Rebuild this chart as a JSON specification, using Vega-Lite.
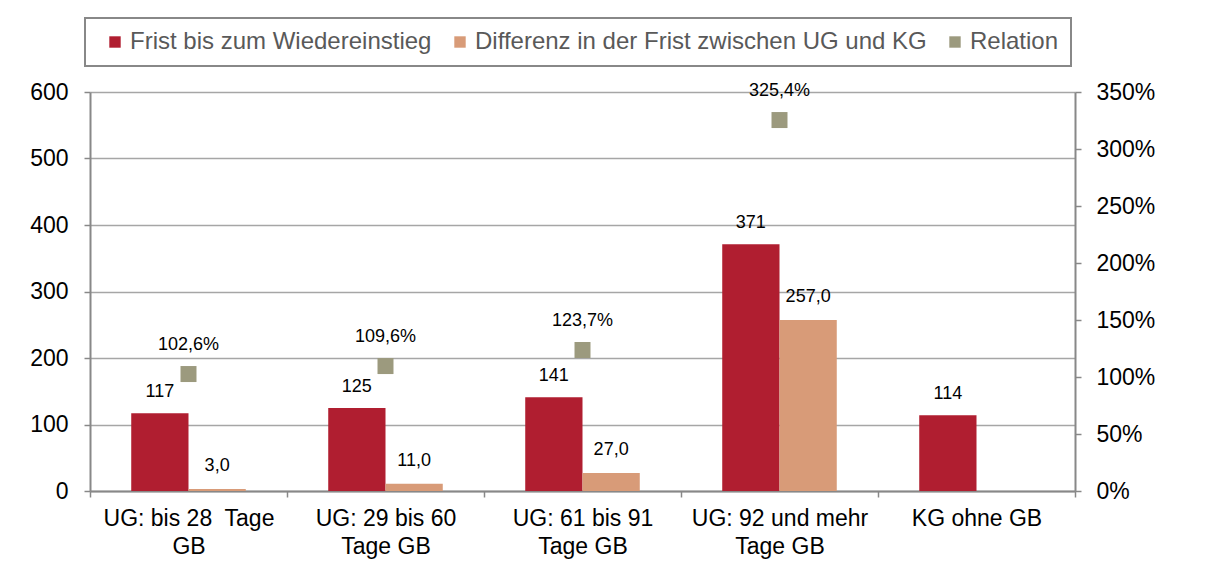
{
  "$schema": "https://vega.github.io/schema/vega-lite/v6.json",
  "width": 985,
  "height": 399,
  "autosize": {"type": "none"},
  "padding": {"left": 90, "top": 92, "right": 138, "bottom": 90},
  "background": "white",
  "config": {
    "locale": {"number": {"decimal": ",", "thousands": ".", "grouping": [3], "currency": ["", " €"]}},
    "font": "Liberation Sans",
    "view": {"stroke": null}
  },
  "datasets": {
    "bars": [
      {"cat": "UG: bis 28\u00a0 Tage\nGB", "series": "Frist bis zum Wiedereinstieg", "value": 117},
      {"cat": "UG: bis 28\u00a0 Tage\nGB", "series": "Differenz in der Frist zwischen UG und KG", "value": 3.0},
      {"cat": "UG: 29 bis 60\nTage GB", "series": "Frist bis zum Wiedereinstieg", "value": 125},
      {"cat": "UG: 29 bis 60\nTage GB", "series": "Differenz in der Frist zwischen UG und KG", "value": 11.0},
      {"cat": "UG: 61 bis 91\nTage GB", "series": "Frist bis zum Wiedereinstieg", "value": 141},
      {"cat": "UG: 61 bis 91\nTage GB", "series": "Differenz in der Frist zwischen UG und KG", "value": 27.0},
      {"cat": "UG: 92 und mehr\nTage GB", "series": "Frist bis zum Wiedereinstieg", "value": 371},
      {"cat": "UG: 92 und mehr\nTage GB", "series": "Differenz in der Frist zwischen UG und KG", "value": 257.0},
      {"cat": "KG ohne GB", "series": "Frist bis zum Wiedereinstieg", "value": 114}
    ],
    "rel": [
      {"cat": "UG: bis 28\u00a0 Tage\nGB", "rel": 1.026},
      {"cat": "UG: 29 bis 60\nTage GB", "rel": 1.096},
      {"cat": "UG: 61 bis 91\nTage GB", "rel": 1.237},
      {"cat": "UG: 92 und mehr\nTage GB", "rel": 3.254}
    ]
  },
  "encoding": {
    "x": {
      "field": "cat",
      "type": "nominal",
      "sort": ["UG: bis 28\u00a0 Tage\nGB", "UG: 29 bis 60\nTage GB", "UG: 61 bis 91\nTage GB", "UG: 92 und mehr\nTage GB", "KG ohne GB"],
      "scale": {"paddingInner": 0, "paddingOuter": 0},
      "axis": {
        "title": null,
        "labelAngle": 0,
        "labelExpr": "split(datum.label, '\\n')",
        "labelFontSize": 23,
        "labelLineHeight": 28,
        "labelPadding": 10,
        "labelLimit": 400,
        "labelColor": "#000000",
        "tickBand": "extent",
        "tickSize": 6,
        "tickColor": "#888888",
        "tickWidth": 1.5,
        "domainColor": "#888888",
        "domainWidth": 2
      }
    }
  },
  "layer": [
    {
      "data": {"name": "bars"},
      "encoding": {
        "xOffset": {"field": "series", "type": "nominal", "sort": ["Frist bis zum Wiedereinstieg", "Differenz in der Frist zwischen UG und KG"], "scale": {"paddingInner": 0, "paddingOuter": 0.72}},
        "y": {
          "field": "value",
          "type": "quantitative",
          "scale": {"domain": [0, 600], "nice": false},
          "axis": {
            "orient": "left",
            "title": null,
            "values": [0, 100, 200, 300, 400, 500, 600],
            "grid": true,
            "gridColor": "#a6a6a6",
            "gridWidth": 1.5,
            "domainColor": "#888888",
            "domainWidth": 2,
            "tickColor": "#888888",
            "tickWidth": 1.5,
            "tickSize": 6,
            "labelFontSize": 23,
            "labelPadding": 16,
            "labelColor": "#000000"
          }
        }
      },
      "layer": [
        {
          "mark": {"type": "bar"},
          "encoding": {
            "color": {
              "field": "series",
              "type": "nominal",
              "scale": {
                "domain": ["Frist bis zum Wiedereinstieg", "Differenz in der Frist zwischen UG und KG", "Relation"],
                "range": ["#B01E30", "#D89B78", "#9C9A7E"]
              },
              "legend": {
                "title": " ",
                "titleOrient": "left",
                "titleFontSize": 10,
                "titlePadding": 6,
                "orient": "none",
                "legendX": -5,
                "legendY": -74,
                "direction": "horizontal",
                "columns": 3,
                "symbolType": "square",
                "symbolSize": 130,
                "symbolStrokeWidth": 0,
                "labelFontSize": 24,
                "labelColor": "#595959",
                "labelOffset": 3,
                "columnPadding": 16,
                "padding": 12,
                "strokeColor": "#888888",
                "fillColor": "#ffffff",
                "labelLimit": 600,
                "encode": {"legend": {"update": {"strokeWidth": {"value": 2}}}}
              }
            }
          }
        },
        {
          "transform": [{"filter": "datum.series == 'Frist bis zum Wiedereinstieg'"}],
          "mark": {"type": "text", "dy": -21, "fontSize": 18, "color": "#000000"},
          "encoding": {"text": {"field": "value", "type": "quantitative", "format": "d"}}
        },
        {
          "transform": [{"filter": "datum.series != 'Frist bis zum Wiedereinstieg'"}],
          "mark": {"type": "text", "dy": -23, "fontSize": 18, "color": "#000000"},
          "encoding": {"text": {"field": "value", "type": "quantitative", "format": ".1f"}}
        }
      ]
    },
    {
      "data": {"name": "rel"},
      "encoding": {
        "y": {
          "field": "rel",
          "type": "quantitative",
          "scale": {"domain": [0, 3.5], "nice": false},
          "axis": {
            "orient": "right",
            "title": null,
            "format": ".0%",
            "values": [0, 0.5, 1, 1.5, 2, 2.5, 3, 3.5],
            "grid": false,
            "domainColor": "#888888",
            "domainWidth": 2,
            "tickColor": "#888888",
            "tickWidth": 1.5,
            "tickSize": 6,
            "labelFontSize": 23,
            "labelPadding": 15,
            "labelColor": "#000000"
          }
        }
      },
      "layer": [
        {
          "mark": {"type": "point", "shape": "square", "filled": true, "size": 256, "opacity": 1},
          "encoding": {"color": {"datum": "Relation"}}
        },
        {
          "mark": {"type": "text", "dy": -29, "fontSize": 18, "color": "#000000"},
          "encoding": {"text": {"field": "rel", "type": "quantitative", "format": ".1%"}}
        }
      ]
    }
  ],
  "resolve": {"scale": {"y": "independent"}}
}
